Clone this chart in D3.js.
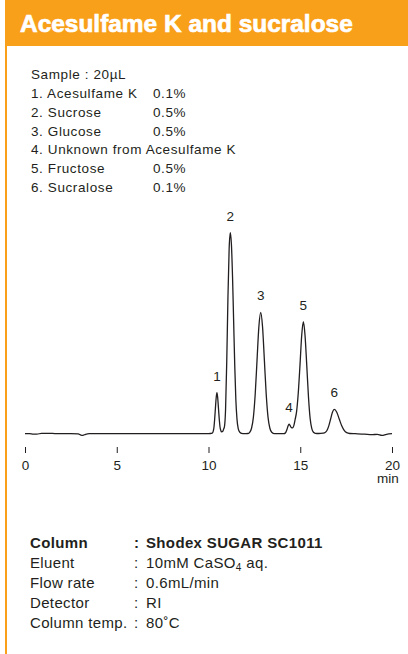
<!DOCTYPE html>
<html>
<head>
<meta charset="utf-8">
<script src="https://cdn.jsdelivr.net/npm/d3@7/dist/d3.min.js"></script>
<style>
  body { margin: 0; background: #fff; }
  svg { display: block; font-family: "Liberation Sans", Arial, Helvetica, sans-serif; }
</style>
</head>
<body>
<div id="chart"></div>
<script>
const title = "Acesulfame K and sucralose";

const sampleHead = "Sample : 20\u00b5L";
const sampleNames = ["1. Acesulfame K", "2. Sucrose", "3. Glucose", "4. Unknown from Acesulfame K", "5. Fructose", "6. Sucralose"];
const sampleConc = ["0.1%", "0.5%", "0.5%", "", "0.5%", "0.1%"];

// retention time (min) and detector signal (peak 2 = 100)
const timeMin = [
  0, 0.25, 0.45, 0.65, 0.9, 1.2, 1.5, 1.8, 2.5, 2.9, 3.05, 3.15, 3.3, 3.5, 5, 7, 9, 9.9,
  10.1, 10.2, 10.29, 10.33, 10.375, 10.42, 10.46, 10.5, 10.545, 10.59, 10.63, 10.67, 10.72, 10.78,
  10.83, 10.87, 10.93, 10.995, 11.06, 11.125, 11.19, 11.25, 11.31, 11.37, 11.43, 11.49, 11.55, 11.62, 11.7, 11.8,
  11.95, 12.15, 12.245, 12.345, 12.445, 12.545, 12.645, 12.745, 12.845, 12.945, 13.045, 13.145, 13.245, 13.345, 13.445,
  13.6, 13.9, 14.1, 14.2, 14.28, 14.34, 14.39, 14.45, 14.52, 14.58, 14.65, 14.72,
  14.8, 14.89, 14.985, 15.08, 15.17, 15.26, 15.355, 15.45, 15.54, 15.63, 15.72, 15.82,
  16.0, 16.25, 16.355, 16.455, 16.555, 16.655, 16.755, 16.855, 16.99, 17.125, 17.26, 17.395, 17.53, 17.7,
  18.0, 18.5, 18.9, 19.2, 19.45, 19.7, 20.0
];
const signal = [
  0, 0, -0.25, -0.25, 0.2, 0.2, 0.15, 0, 0, -0.1, -0.7, -0.8, -0.3, 0, 0, 0, 0, 0,
  0.1, 0.3, 2.7, 6.6, 12.4, 18, 20.4, 18, 12.4, 6.8, 3.2, 1.6, 0.9, 1.2,
  2.4, 3.5, 12, 36, 68, 92, 100, 94, 78, 56, 34, 17, 7.5, 2.5, 0.8, 0.2,
  0, 0.1, 0.7, 2.7, 8.1, 19.6, 36.6, 53.2, 60.3, 53.2, 36.6, 19.6, 8.1, 2.7, 0.7,
  0, 0, 0, 0.5, 2.2, 4.0, 4.8, 4.0, 3.0, 2.9, 4.0, 7.0,
  11, 20, 34, 49, 55.7, 49, 34, 18, 7.5, 2.5, 0.7, 0.2,
  0.1, 0.3, 0.6, 1.6, 3.9, 7.3, 10.7, 12.1, 10.7, 7.3, 3.9, 1.6, 0.5, 0.1,
  0, -0.2, -0.5, -0.3, -0.8, -0.3, 0
];

const peakLabels = ["1", "2", "3", "4", "5", "6"];
const peakTimes = [10.46, 11.19, 12.845, 14.39, 15.17, 16.855];
const peakSignals = [20.4, 100, 60.3, 4.8, 55.7, 12.1];

const xTicks = [0, 5, 10, 15, 20];

const condLabels = ["Column", "Eluent", "Flow rate", "Detector", "Column temp."];
const condValues = ["Shodex SUGAR SC1011", "10mM CaSO|4| aq.", "0.6mL/min", "RI", "80\u02daC"];

const width = 408, height = 654;
const orange = "#f9a01b";
const ink = "#231f20";

const svg = d3.select("#chart").append("svg")
  .attr("width", width)
  .attr("height", height);

// frame: header band + left rule
svg.append("rect").attr("x", 5).attr("y", 0).attr("width", width - 5).attr("height", 46).attr("fill", orange);
svg.append("rect").attr("x", 5).attr("y", 0).attr("width", 2).attr("height", height).attr("fill", orange);

const head = svg.append("text")
  .attr("x", 20)
  .attr("y", 32.3)
  .attr("fill", "#fff")
  .attr("stroke", "#fff")
  .attr("stroke-width", 0.7)
  .attr("font-weight", "bold")
  .attr("font-size", 21)
  .text(title);
// fit the title to the width of the original
const tw = head.node().getComputedTextLength();
head.attr("font-size", 21 * 333 / tw);

// sample list
const sample = svg.append("g").attr("fill", ink).attr("font-size", 13.5).attr("letter-spacing", 0.6);
sample.append("text").attr("x", 31).attr("y", 79).text(sampleHead);
sampleNames.forEach((name, i) => {
  const y = 98 + i * 18.8;
  sample.append("text").attr("x", 31).attr("y", y).text(name);
  if (sampleConc[i]) sample.append("text").attr("x", 153).attr("y", y).text(sampleConc[i]);
});

// chromatogram
const x = d3.scaleLinear().domain([0, 20]).range([25, 392]);
const y = d3.scaleLinear().domain([0, 100]).range([433.7, 232.7]);

const points = timeMin.map((t, i) => [t, signal[i]]);

svg.append("path")
  .datum(points)
  .attr("fill", "none")
  .attr("stroke", ink)
  .attr("stroke-width", 1.3)
  .attr("stroke-linejoin", "round")
  .attr("d", d3.line()
    .x((d) => x(d[0]))
    .y((d) => y(d[1]))
    .curve(d3.curveMonotoneX));

svg.append("g")
  .attr("fill", ink)
  .attr("font-size", 13.5)
  .attr("text-anchor", "middle")
  .selectAll("text")
  .data(peakLabels)
  .join("text")
  .attr("x", (d, i) => x(peakTimes[i]))
  .attr("y", (d, i) => y(peakSignals[i]) - 12)
  .text((d) => d);

const axis = svg.append("g")
  .attr("transform", "translate(0,447)")
  .call(d3.axisBottom(x).tickValues(xTicks).tickSize(6).tickPadding(7).tickFormat(d3.format("d")));
axis.select(".domain").remove();
axis.selectAll("line").attr("stroke", ink);
axis.selectAll("text")
  .attr("fill", ink)
  .attr("font-size", 13.5)
  .attr("font-family", "\"Liberation Sans\", Arial, sans-serif");

svg.append("text")
  .attr("x", 388)
  .attr("y", 483)
  .attr("text-anchor", "middle")
  .attr("fill", ink)
  .attr("font-size", 13.5)
  .text("min");

// run conditions
const cond = svg.append("g").attr("fill", ink).attr("font-size", 15).attr("letter-spacing", 0.35);
condLabels.forEach((lab, i) => {
  const yy = 548 + i * 20;
  const bold = i === 0 ? "bold" : "normal";
  cond.append("text").attr("x", 30).attr("y", yy).attr("font-weight", bold).text(lab);
  cond.append("text").attr("x", 134).attr("y", yy).attr("font-weight", bold).text(":");
  const t = cond.append("text").attr("x", 146).attr("y", yy).attr("font-weight", bold);
  // "|...|" marks a subscript part
  condValues[i].split("|").forEach((part, k) => {
    const sp = t.append("tspan").text(part);
    if (k % 2 === 1) sp.attr("font-size", 10).attr("dy", 3);
    else if (k > 0) sp.attr("dy", -3);
  });
});
</script>
</body>
</html>
